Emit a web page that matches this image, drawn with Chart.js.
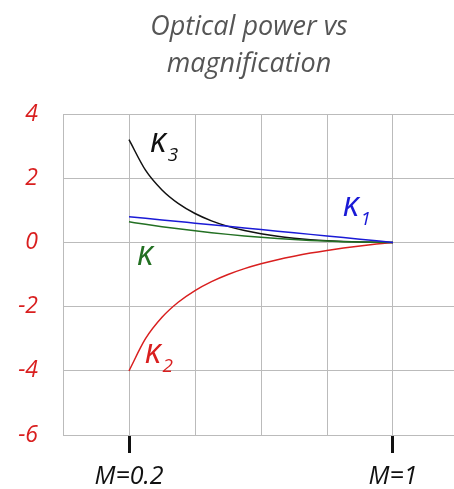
<!DOCTYPE html>
<html>
<head>
<meta charset="utf-8">
<script src="https://cdn.jsdelivr.net/npm/chart.js@4"></script>
<style>
  html,body{margin:0;padding:0;background:#fff;overflow:hidden}
  canvas{display:block}
</style>
</head>
<body>
<canvas id="powerChart" width="460" height="489"></canvas>
<script>
// magnification samples
const magnification = [0.2,0.25,0.3,0.35,0.4,0.45,0.5,0.55,0.6,0.65,0.7,0.75,0.8,0.85,0.9,0.95,1.0];
// optical power
const kappa1 = [0.8,0.75,0.7,0.65,0.6,0.55,0.5,0.45,0.4,0.35,0.3,0.25,0.2,0.15,0.1,0.05,0];
const kappa2 = [-4,-3,-2.333,-1.857,-1.5,-1.222,-1,-0.818,-0.667,-0.538,-0.429,-0.333,-0.25,-0.176,-0.111,-0.053,0];
const kappa3 = [3.2,2.25,1.633,1.207,0.9,0.672,0.5,0.368,0.267,0.188,0.129,0.083,0.05,0.026,0.011,0.003,0];
const kappa  = [0.64,0.5625,0.49,0.4225,0.36,0.3025,0.25,0.2025,0.16,0.1225,0.09,0.0625,0.04,0.0225,0.01,0.0025,0];
const yTicks = [-6,-4,-2,0,2,4];
const markedM = [0.2,1];
const titleLines = ['Optical power vs','magnification'];

const FONT = "'Open Sans', 'DejaVu Sans', sans-serif";
const pts = ys => magnification.map((m,i)=>({x:m, y:ys[i]}));
const isMarked = v => markedM.some(m => Math.abs(m - v) < 1e-6);

// curve name labels (data coords)
const curveLabels = [
  {name:'κ', sub:'3', x:0.264, y:3.0,   color:'#111'},
  {name:'κ', sub:'1', x:0.848, y:1.0,   color:'#1a1ad6'},
  {name:'κ', sub:'',  x:0.224, y:-0.53, color:'#237023'},
  {name:'κ', sub:'2', x:0.248, y:-3.58, color:'#d91f1f'},
];

const titlePlugin = {
  id:'handTitle',
  afterDraw(chart){
    const c = chart.ctx;
    c.save();
    c.fillStyle = '#555';
    c.font = `italic 27px ${FONT}`;
    c.textAlign = 'center'; c.textBaseline = 'middle';
    c.fillText(titleLines[0], 249, 27);
    c.fillText(titleLines[1], 249, 64);
    c.restore();
  }
};

const labelPlugin = {
  id:'curveLabels',
  afterDatasetsDraw(chart){
    const c = chart.ctx, xs = chart.scales.x, ys = chart.scales.y;
    c.save();
    curveLabels.forEach(l => {
      const px = xs.getPixelForValue(l.x), py = ys.getPixelForValue(l.y);
      c.fillStyle = l.color;
      c.textBaseline = 'middle'; c.textAlign = 'left';
      c.font = `italic 34px ${FONT}`;
      c.fillText(l.name, px, py - 4);
      const w = c.measureText(l.name).width;
      if (l.sub){
        c.font = `italic 19px ${FONT}`;
        c.fillText(l.sub, px + w + 1, py + 9);
      }
    });
    c.restore();
  }
};

function line(label, ys, color){
  return {label, data:pts(ys), borderColor:color, backgroundColor:color,
    borderWidth:1.5, pointRadius:0, fill:false, cubicInterpolationMode:'monotone'};
}

new Chart(document.getElementById('powerChart').getContext('2d'), {
  type:'line',
  data:{datasets:[
    line('κ1', kappa1, '#1a1ad6'),
    line('κ', kappa, '#237023'),
    line('κ3', kappa3, '#111'),
    line('κ2', kappa2, '#d91f1f'),
  ]},
  options:{
    responsive:false, animation:false,
    layout:{padding:{top:114, left:8, right:1, bottom:0}},
    plugins:{legend:{display:false}, tooltip:{enabled:false}, title:{display:false}},
    scales:{
      x:{type:'linear', min:0, max:1.2,
        border:{color:'#bbb'},
        afterFit:s => { s.height = 54; s.paddingLeft = 0; s.paddingRight = 0; },
        grid:{color:'#bbb', lineWidth:1, tickLength:18,
          tickColor:ctx => isMarked(ctx.tick.value) ? '#111' : 'rgba(0,0,0,0)',
          tickWidth:ctx => isMarked(ctx.tick.value) ? 3 : 0},
        ticks:{stepSize:0.2, padding:9, color:'#111', maxRotation:0, autoSkip:false,
          font:{family:FONT, size:25, style:'italic'},
          callback:v => isMarked(v) ? 'M=' + (+v.toFixed(1)) : ''}},
      y:{min:-6, max:4,
        border:{color:'#bbb'},
        afterFit:s => { s.width = 55; s.paddingTop = 0; s.paddingBottom = 0; },
        afterBuildTicks:s => { s.ticks = yTicks.map(v=>({value:v})); },
        grid:{color:'#bbb', lineWidth:1, drawTicks:false},
        ticks:{padding:25, color:'#d91f1f', font:{family:FONT, size:23, style:'italic'}}}
    }
  },
  plugins:[titlePlugin, labelPlugin]
});
</script>
</body>
</html>
